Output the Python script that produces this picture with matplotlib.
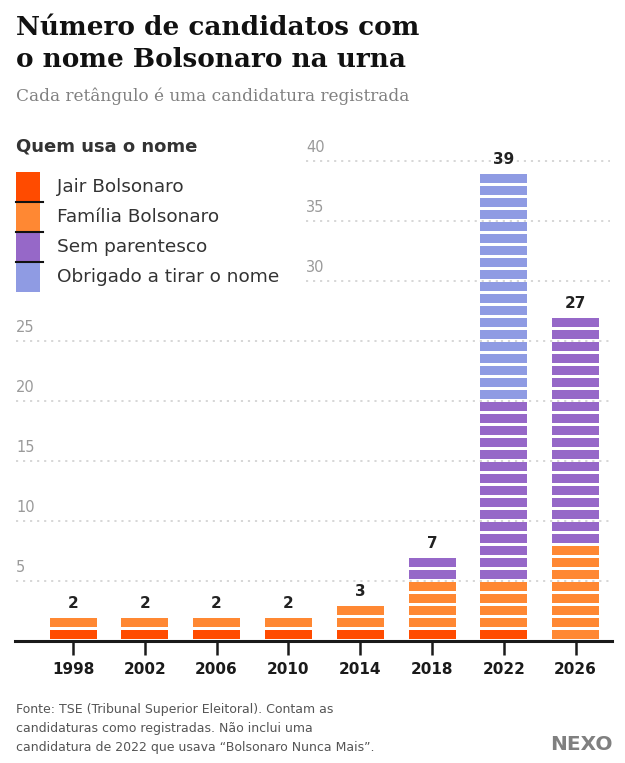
import numpy as np
import matplotlib
matplotlib.use("Agg")
import matplotlib.pyplot as plt
from matplotlib.patches import Rectangle

# ---- dados ----
anos = ["1998", "2002", "2006", "2010", "2014", "2018", "2022", "2026"]
jair = [1, 1, 1, 1, 1, 1, 1, 0]
familia = [1, 1, 1, 1, 2, 4, 4, 8]
sem_parentesco = [0, 0, 0, 0, 0, 2, 15, 19]
obrigado = [0, 0, 0, 0, 0, 0, 19, 0]

categorias = ["Jair Bolsonaro", "Família Bolsonaro", "Sem parentesco", "Obrigado a tirar o nome"]
cores = ["#ff4b00", "#ff8833", "#9668c8", "#8f9be3"]
y_ticks = [5, 10, 15, 20, 25, 30, 35, 40]

W, H = 625, 763
FONT = "DejaVu Sans"
SERIF = "DejaVu Serif"

fig = plt.figure(figsize=(W / 100, H / 100), dpi=100)


def px(x, y):
    """pixel (topo-esquerda) -> coordenadas da figura"""
    return x / W, 1 - y / H


# eixo principal: base em y=641px, 12 px por candidatura
ax_left, ax_right = 15, 612
base_y, unit_px = 641, 12
ymax = 41
ax = fig.add_axes([ax_left / W, (H - base_y) / H,
                   (ax_right - ax_left) / W, ymax * unit_px / H])
x0, step = 73, 71.8
ax.set_xlim((ax_left - x0) / step, (ax_right - x0) / step)
ax.set_ylim(0, ymax)

series = [jair, familia, sem_parentesco, obrigado]
bar_w = 47 / step
for i in range(len(anos)):
    k = 0
    for serie, cor in zip(series, cores):
        for _ in range(serie[i]):
            ax.add_patch(Rectangle((i - bar_w / 2, k + 0.17), bar_w, 0.75,
                                   facecolor=cor, edgecolor="none", zorder=3))
            k += 1
    ax.annotate(str(k), (i, k), xytext=(0, 10), textcoords="offset points",
                ha="center", va="center", fontsize=11, fontweight="bold",
                color="#222222", family=FONT)

# grade pontilhada + rótulos do eixo y
ytr = ax.get_yaxis_transform()
for v in y_ticks:
    xs = 16 if v <= 25 else 306
    fx = (xs - ax_left) / (ax_right - ax_left)
    ax.plot([fx, 0.997], [v, v], transform=ytr, color="#cccccc", lw=1.1,
            ls=(0, (1.4, 3.2)), zorder=1, clip_on=False)
    ax.text(fx, v + 1.13, str(v), transform=ytr, ha="left", va="center",
            fontsize=10.5, color="#9a9a9a", family=FONT)

for s in ["left", "right", "top"]:
    ax.spines[s].set_visible(False)
ax.spines["bottom"].set_linewidth(2.2)
ax.spines["bottom"].set_color("#1a1a1a")
ax.set_yticks([])
ax.set_xticks(range(len(anos)))
ax.set_xticklabels(anos, fontsize=11, color="#1a1a1a", family=FONT, fontweight="bold")
ax.tick_params(axis="x", length=10, width=1.8, color="#1a1a1a", pad=5)
ax.set_facecolor("none")

# título e subtítulo
fig.text(*px(16, 35), "Número de candidatos com", fontsize=18.9, fontweight="bold",
         family=SERIF, color="#111111", va="baseline")
fig.text(*px(16, 67), "o nome Bolsonaro na urna", fontsize=18.9, fontweight="bold",
         family=SERIF, color="#111111", va="baseline")
fig.text(*px(16, 101), "Cada retângulo é uma candidatura registrada", fontsize=12.2,
         family=SERIF, color="#808080", va="baseline")

# legenda
fig.text(*px(16, 146), "Quem usa o nome", fontsize=13, fontweight="bold",
         family=FONT, color="#333333", va="center")
leg_top, seg_h = 172, 30
for j, (nome, cor) in enumerate(zip(categorias, cores)):
    top = leg_top + j * seg_h
    fig.patches.append(Rectangle(px(16, top + seg_h), 24 / W, seg_h / H,
                                 transform=fig.transFigure, facecolor=cor,
                                 edgecolor="none"))
    fig.text(*px(57, top + seg_h / 2), nome, fontsize=13.3, family=FONT,
             color="#333333", va="center")
    if j > 0:
        fig.lines.append(plt.Line2D([16 / W, 43 / W], [1 - top / H] * 2,
                                    transform=fig.transFigure, color="#111111", lw=1.5))

# rodapé
rodape = ["Fonte: TSE (Tribunal Superior Eleitoral). Contam as",
          "candidaturas como registradas. Não inclui uma",
          "candidatura de 2022 que usava “Bolsonaro Nunca Mais”."]
for j, linha in enumerate(rodape):
    fig.text(*px(16, 710 + j * 18.5), linha, fontsize=9, family=FONT,
             color="#555555", va="center")
fig.text(*px(613, 745), "NEXO", fontsize=14.5, fontweight="bold", family=FONT,
         color="#808080", ha="right", va="center")

fig.savefig("out.png", dpi=100)
